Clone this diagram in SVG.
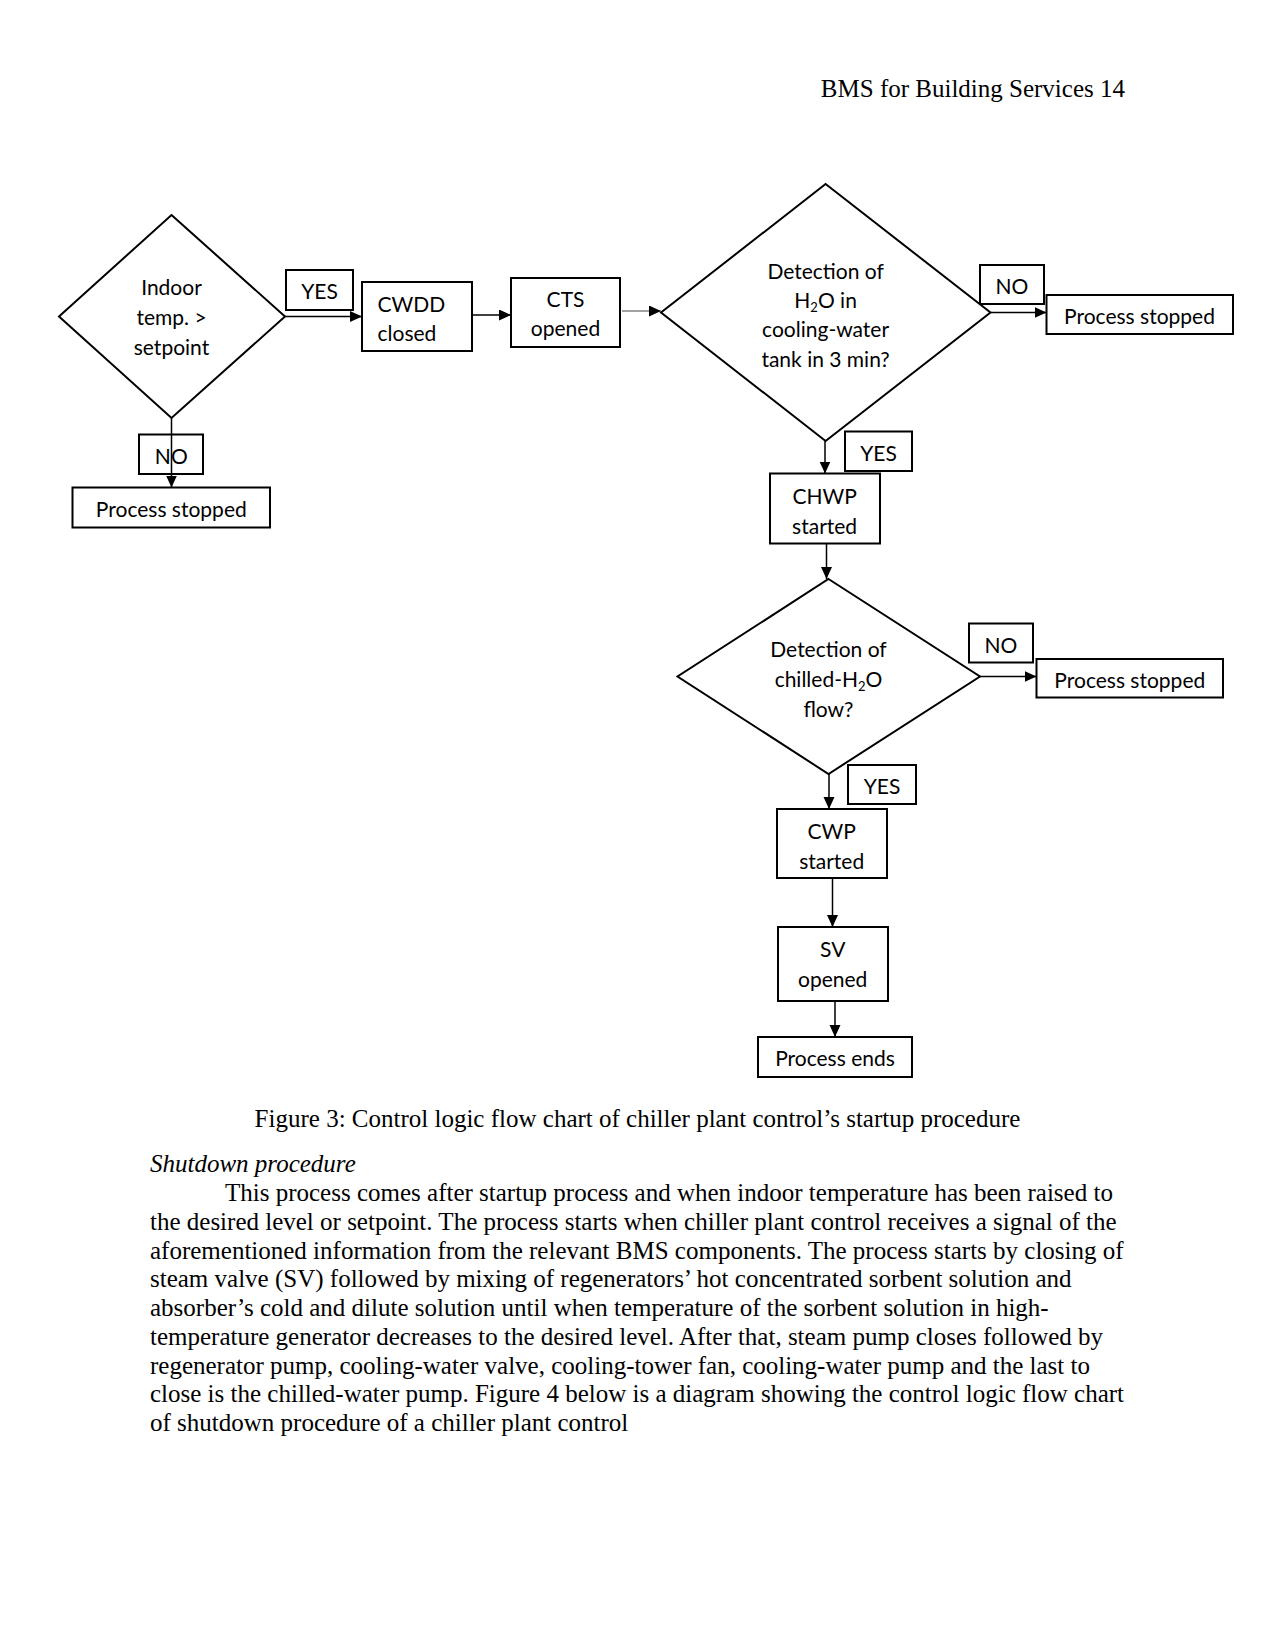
<svg xmlns="http://www.w3.org/2000/svg" width="1275" height="1650" viewBox="0 0 1275 1650">
<style>
.bg{fill:#fff}
.box{fill:none;stroke:#000;stroke-width:2}
.lbl{fill:none;stroke:#000;stroke-width:2}
.dia{fill:none;stroke:#000;stroke-width:2}
.t{font-family:Lato,"Carlito","Liberation Sans",sans-serif;font-size:21px;fill:#000;text-anchor:middle}
.tl{text-anchor:start}
.sub{font-size:13px}
.con line{stroke:#000;stroke-width:1.5;marker-end:url(#ah)}
.doc{font-family:"Liberation Serif","Times New Roman",serif;font-size:25px;fill:#000}
</style>
<defs>
<marker id="ah" markerUnits="userSpaceOnUse" markerWidth="13" markerHeight="12" refX="12" refY="5.5" orient="auto">
<path d="M0,0 L12,5.5 L0,11 z" fill="#000"/>
</marker>
</defs>
<rect class="bg" x="0" y="0" width="1275" height="1650"/>

<text class="doc" x="1125" y="97" text-anchor="end">BMS for Building Services 14</text>

<g id="d1"><polygon class="dia" points="171.5,215 285,316.5 171.5,418 59,316.5"/>
<text class="t" x="171.5" y="295">Indoor</text><text class="t" x="171.5" y="325">temp. &gt;</text><text class="t" x="171.5" y="355">setpoint</text></g>
<g id="yes1"><rect class="lbl" x="286" y="270" width="67" height="40"/><text class="t" x="319.5" y="299">YES</text></g>
<g id="no1"><rect class="lbl" x="139" y="434.5" width="64" height="39.5"/><text class="t" x="171.3" y="464">NO</text></g>
<g id="ps1"><rect class="box" x="72.5" y="487.5" width="197.5" height="40"/><text class="t" x="171.3" y="516.5">Process stopped</text></g>
<g id="cwdd"><rect class="box" x="362" y="282" width="110" height="69" stroke-width="2.5"/><text class="t tl" x="377.5" y="311.5">CWDD</text><text class="t tl" x="377.5" y="340.5">closed</text></g>
<g id="cts"><rect class="box" x="511" y="278" width="109" height="69"/><text class="t" x="565.5" y="307">CTS</text><text class="t" x="565.5" y="336">opened</text></g>

<g id="d2"><polygon class="dia" points="825.6,184 990.5,312.5 825.6,441 661,312.5"/>
<text class="t" x="825.6" y="278.5">Detection of</text>
<text class="t" x="825.6" y="308">H<tspan class="sub" dy="4">2</tspan><tspan dy="-4">O in</tspan></text>
<text class="t" x="825.6" y="337">cooling-water</text>
<text class="t" x="825.6" y="367">tank in 3 min?</text></g>
<g id="no2"><rect class="lbl" x="980" y="265" width="64" height="39"/><text class="t" x="1012" y="294">NO</text></g>
<g id="ps2"><rect class="box" x="1046.5" y="295" width="186.5" height="39"/><text class="t" x="1139.5" y="323.5">Process stopped</text></g>
<g id="yes2"><rect class="lbl" x="845" y="431.5" width="67" height="39.5"/><text class="t" x="878.5" y="460.5">YES</text></g>
<g id="chwp"><rect class="box" x="770" y="473.5" width="110" height="70"/><text class="t" x="824.6" y="504">CHWP</text><text class="t" x="824.6" y="534">started</text></g>

<g id="d3"><polygon class="dia" points="828.5,579 980,676.5 828.5,774 677.5,676.5"/>
<text class="t" x="828.5" y="657">Detection of</text>
<text class="t" x="828.5" y="687">chilled-H<tspan class="sub" dy="4">2</tspan><tspan dy="-4">O</tspan></text>
<text class="t" x="828.5" y="717">flow?</text></g>
<g id="no3"><rect class="lbl" x="969" y="623.5" width="64" height="39"/><text class="t" x="1001" y="652.5">NO</text></g>
<g id="ps3"><rect class="box" x="1036.5" y="659" width="186.5" height="38.5"/><text class="t" x="1129.8" y="688">Process stopped</text></g>
<g id="yes3"><rect class="lbl" x="848" y="765" width="68" height="39"/><text class="t" x="882" y="794">YES</text></g>
<g id="cwp"><rect class="box" x="777" y="809" width="110" height="69"/><text class="t" x="831.7" y="838.5">CWP</text><text class="t" x="831.7" y="869">started</text></g>
<g id="sv"><rect class="box" x="778" y="927" width="110" height="74"/><text class="t" x="832.7" y="956.5">SV</text><text class="t" x="832.7" y="986.5">opened</text></g>
<g id="pe"><rect class="box" x="758" y="1037" width="154" height="40"/><text class="t" x="835" y="1066">Process ends</text></g>

<g id="connectors" class="con">
<line x1="285" y1="316.5" x2="362" y2="316.5"/>
<line x1="171.5" y1="418" x2="171.5" y2="487.5"/>
<line x1="472" y1="315" x2="511" y2="315" stroke-width="2"/>
<line x1="622" y1="311" x2="661" y2="311" style="stroke:#444;stroke-width:1"/>
<line x1="990.5" y1="312.5" x2="1046.5" y2="312.5"/>
<line x1="825" y1="441" x2="825" y2="473.5"/>
<line x1="826.5" y1="543.5" x2="826.5" y2="579"/>
<line x1="980" y1="676.5" x2="1036.5" y2="676.5"/>
<line x1="829" y1="774" x2="829" y2="809"/>
<line x1="832.5" y1="878" x2="832.5" y2="927"/>
<line x1="835" y1="1001" x2="835" y2="1037"/>
</g>

<text class="doc" x="637.5" y="1127" text-anchor="middle">Figure 3: Control logic flow chart of chiller plant control’s startup procedure</text>
<text class="doc" x="150" y="1172" font-style="italic">Shutdown procedure</text>
<text class="doc" x="225" y="1201">This process comes after startup process and when indoor temperature has been raised to</text>
<text class="doc" x="150" y="1229.75">the desired level or setpoint. The process starts when chiller plant control receives a signal of the</text>
<text class="doc" x="150" y="1258.5">aforementioned information from the relevant BMS components. The process starts by closing of</text>
<text class="doc" x="150" y="1287.25">steam valve (SV) followed by mixing of regenerators’ hot concentrated sorbent solution and</text>
<text class="doc" x="150" y="1316">absorber’s cold and dilute solution until when temperature of the sorbent solution in high-</text>
<text class="doc" x="150" y="1344.75">temperature generator decreases to the desired level. After that, steam pump closes followed by</text>
<text class="doc" x="150" y="1373.5">regenerator pump, cooling-water valve, cooling-tower fan, cooling-water pump and the last to</text>
<text class="doc" x="150" y="1402.25">close is the chilled-water pump. Figure 4 below is a diagram showing the control logic flow chart</text>
<text class="doc" x="150" y="1431">of shutdown procedure of a chiller plant control</text>
</svg>
